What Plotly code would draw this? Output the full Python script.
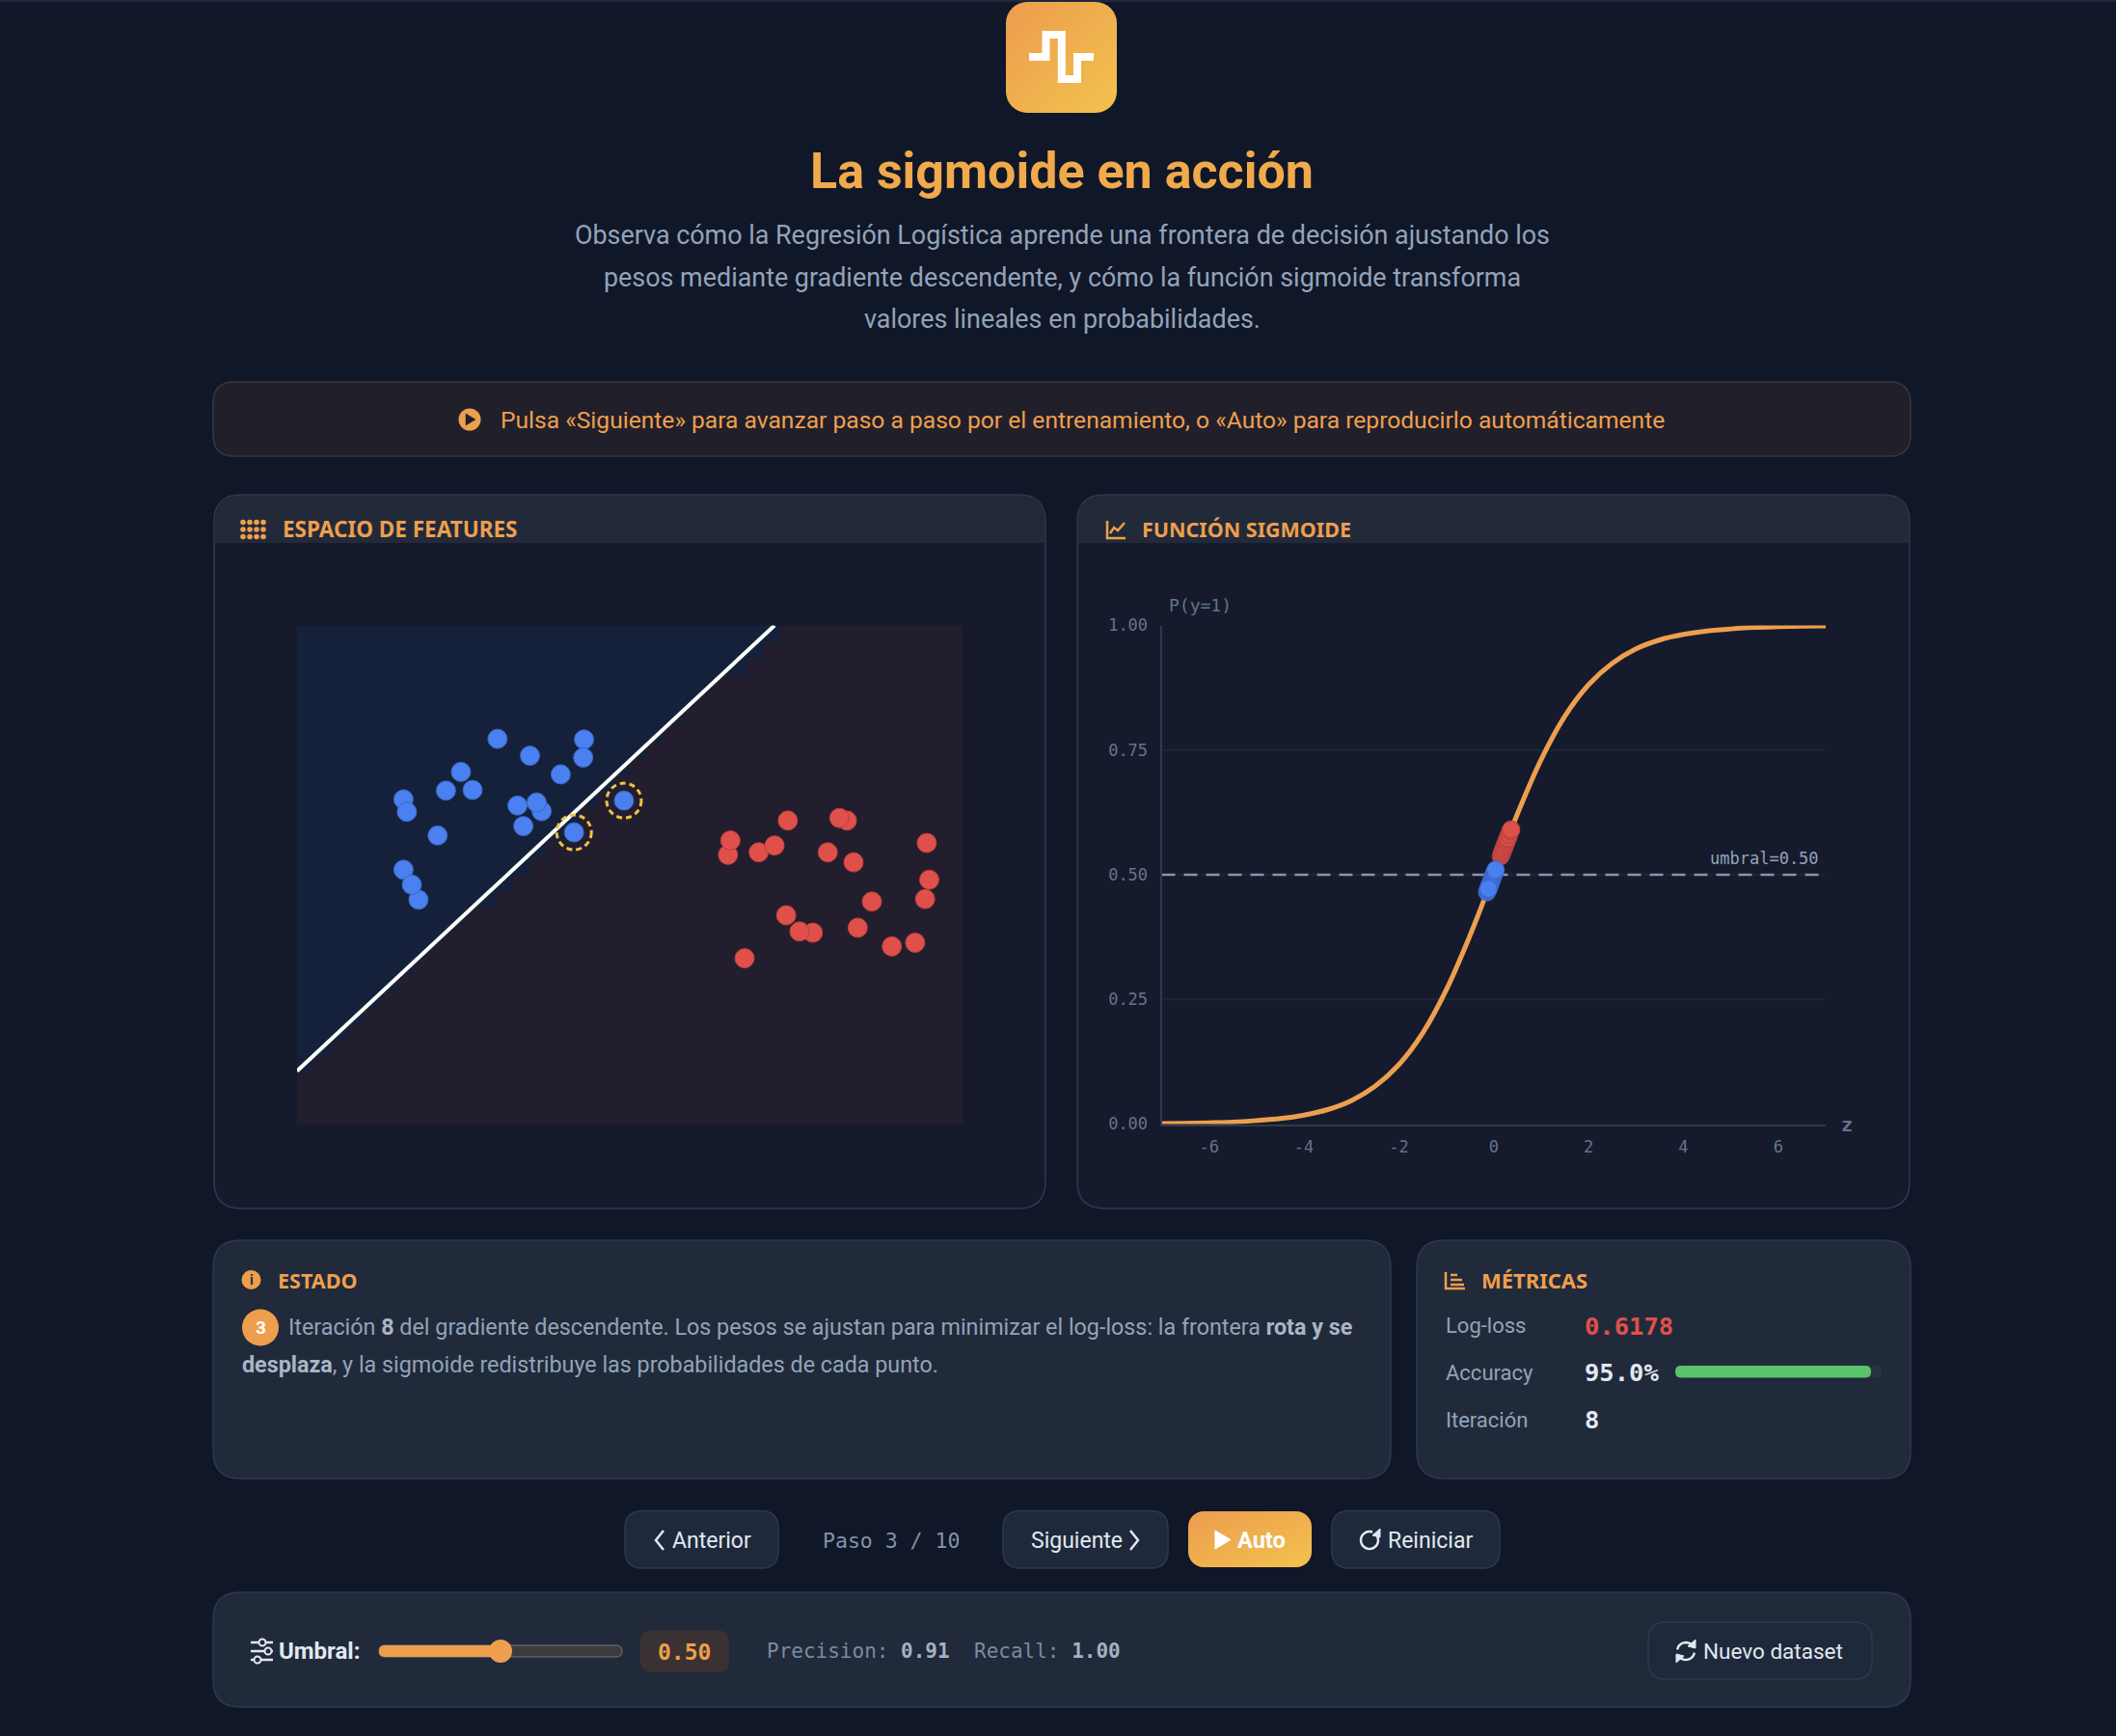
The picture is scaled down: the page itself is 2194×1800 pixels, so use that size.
import base64
import math
import plotly.graph_objects as go

W, H = 2194, 1800
SANS = "Roboto"
HEAD_FONT = "Noto Sans"
MONO = "DejaVu Sans Mono"

# feature space
blue_x = [-1.59, -1.20, -0.55, -0.56, -0.83, -2.03, -2.21, -1.89, -2.72, -2.68,
          -2.31, -1.06, -1.35, -1.12, -1.28, -2.72, -2.54, -2.62, -0.67, -0.07]
blue_y = [2.18, 1.91, 2.17, 1.88, 1.61, 1.65, 1.35, 1.36, 1.21, 1.01,
          0.63, 1.02, 1.11, 1.16, 0.78, 0.08, -0.40, -0.16, 0.68, 1.19]
red_x = [1.90, 2.61, 2.52, 1.18, 1.21, 1.55, 1.74, 2.38, 2.69, 3.57,
         3.60, 3.55, 2.91, 1.88, 2.20, 2.04, 2.74, 3.15, 3.43, 1.38]
red_y = [0.87, 0.87, 0.91, 0.32, 0.55, 0.36, 0.47, 0.36, 0.20, 0.51,
         -0.08, -0.39, -0.43, -0.65, -0.93, -0.91, -0.85, -1.15, -1.09, -1.34]
ring_x = [-0.67, -0.07]
ring_y = [0.68, 1.19]
boundary_x = [-4.0, 1.74]
boundary_y = [-3.15, 4.0]
# blue cells counted from the top, one per column of the decision surface
blue_rows = [27, 26, 25, 24, 23, 22, 21, 20, 19, 18, 17, 17, 16, 15, 14, 13, 12, 11, 10, 9,
             8, 7, 6, 5, 4, 3, 3, 2, 1, 0, 0, 0, 0, 0, 0, 0, 0, 0, 0, 0]
n_rows = 30

# sigmoid panel
curve_z = [-7, -6.5, -6, -5.5, -5, -4.5, -4, -3.5, -3, -2.5, -2, -1.5, -1, -0.5, 0,
           0.5, 1, 1.5, 2, 2.5, 3, 3.5, 4, 4.5, 5, 5.5, 6, 6.5, 7]
curve_p = [0.001, 0.0015, 0.0025, 0.004, 0.007, 0.011, 0.018, 0.029, 0.047, 0.076, 0.119, 0.182, 0.269, 0.378, 0.5,
           0.622, 0.731, 0.818, 0.881, 0.924, 0.953, 0.971, 0.982, 0.989, 0.993, 0.996, 0.9975, 0.9985, 0.999]
sig_red_z = [0.15, 0.17, 0.18, 0.19, 0.20, 0.21, 0.22, 0.23, 0.24, 0.25,
             0.26, 0.27, 0.28, 0.29, 0.30, 0.32, 0.33, 0.35, 0.36, 0.37]
sig_red_p = [0.537, 0.542, 0.545, 0.547, 0.550, 0.552, 0.555, 0.557, 0.560, 0.562,
             0.565, 0.567, 0.570, 0.572, 0.574, 0.579, 0.582, 0.587, 0.589, 0.591]
sig_blue_z = [-0.14, -0.13, -0.12, -0.12, -0.10, -0.09, -0.08, -0.07, -0.06, -0.05,
              -0.04, -0.03, -0.02, -0.01, 0.0, 0.01, 0.02, 0.03, -0.11, 0.04]
sig_blue_p = [0.465, 0.468, 0.470, 0.470, 0.475, 0.478, 0.480, 0.483, 0.485, 0.488,
              0.490, 0.493, 0.495, 0.498, 0.500, 0.503, 0.505, 0.508, 0.472, 0.510]
threshold_z = [-7, 7]
threshold_p = [0.5, 0.5]
x_ticks = [-6, -4, -2, 0, 2, 4, 6]
x_labels = ["-6", "-4", "-2", "0", "2", "4", "6"]
y_ticks = [0, 0.25, 0.5, 0.75, 1]
y_labels = ["0.00", "0.25", "0.50", "0.75", "1.00"]

ORANGE = "#ee9f4e"
TEXT = "#94a3b8"
LIGHT = "#e2e8f0"
BLUE = "#4a80f0"
RED = "#e0504a"
CARD = "#202a3b"
EDGE = "#2e3a4c"
PANEL = "#151b2d"
HEAD = "#222a3a"

shapes = []
annotations = []


def pt(x, y):
    return f"{x / W:.5f},{1 - y / H:.5f}"


def rrect(x0, y0, x1, y1, r, bottom=True):
    p = f"M{pt(x0 + r, y0)} L{pt(x1 - r, y0)} Q{pt(x1, y0)} {pt(x1, y0 + r)} "
    if bottom:
        p += f"L{pt(x1, y1 - r)} Q{pt(x1, y1)} {pt(x1 - r, y1)} L{pt(x0 + r, y1)} Q{pt(x0, y1)} {pt(x0, y1 - r)} "
    else:
        p += f"L{pt(x1, y1)} L{pt(x0, y1)} "
    return p + f"L{pt(x0, y0 + r)} Q{pt(x0, y0)} {pt(x0 + r, y0)} Z"


def box(x0, y0, x1, y1, r, fill, edge=None, bottom=True, width=1.5):
    shapes.append(dict(type="path", path=rrect(x0, y0, x1, y1, r, bottom), xref="paper", yref="paper",
                       fillcolor=fill, line=dict(color=edge or fill, width=width if edge else 0), layer="below"))


def stroke(points, color, width=2.5, fill=None):
    path = "M" + " L".join(pt(x, y) for x, y in points)
    shapes.append(dict(type="path", path=path + (" Z" if fill else ""), xref="paper", yref="paper",
                       fillcolor=fill, line=dict(color=color, width=width), layer="below"))


def disc(cx, cy, r, fill, edge=None, width=0):
    shapes.append(dict(type="circle", xref="paper", yref="paper", x0=(cx - r) / W, x1=(cx + r) / W,
                       y0=1 - (cy + r) / H, y1=1 - (cy - r) / H, fillcolor=fill, layer="below",
                       line=dict(color=edge or fill, width=width)))


def arc(cx, cy, r, a0, a1, n=24):
    return [(cx + r * math.cos(math.radians(a0 + (a1 - a0) * i / n)),
             cy + r * math.sin(math.radians(a0 + (a1 - a0) * i / n))) for i in range(n + 1)]


def label(x, y, text, size, color, anchor="left", family=SANS):
    annotations.append(dict(x=x / W, y=1 - y / H, xref="paper", yref="paper", text=text, showarrow=False,
                            xanchor=anchor, yanchor="middle", borderpad=0, align=anchor,
                            font=dict(family=family, size=size, color=color)))


def gradient_image(x0, y0, x1, y1, r):
    w, h = x1 - x0, y1 - y0
    svg = (f'<svg xmlns="http://www.w3.org/2000/svg" width="{w}" height="{h}"><defs>'
           '<linearGradient id="g" x1="0" y1="0" x2="1" y2="1"><stop offset="0" stop-color="#ed9c4e"/>'
           '<stop offset="1" stop-color="#f2c24e"/></linearGradient></defs>'
           f'<rect width="{w}" height="{h}" rx="{r}" fill="url(#g)"/></svg>')
    src = "data:image/svg+xml;base64," + base64.b64encode(svg.encode()).decode()
    return dict(source=src, xref="paper", yref="paper", x=x0 / W, y=1 - y0 / H, sizex=w / W, sizey=h / H,
                sizing="stretch", xanchor="left", yanchor="top", layer="below")


images = [gradient_image(1043, 2, 1158, 117, 22), gradient_image(1232, 1567, 1360, 1625, 16)]

# header
stroke([(0, 1), (W, 1)], "#1e293b", 2)
stroke([(1067, 59), (1084.5, 59), (1084.5, 36), (1100.8, 36), (1100.8, 82), (1117, 82), (1117, 59), (1134, 59)], "#ffffff", 8)
label(1101, 177, "<b>La sigmoide en acción</b>", 52, "#f0a94b", "center")
label(1101, 244, "Observa cómo la Regresión Logística aprende una frontera de decisión ajustando los", 26.9, TEXT, "center")
label(1101, 287.5, "pesos mediante gradiente descendente, y cómo la función sigmoide transforma", 26.9, TEXT, "center")
label(1101, 330.5, "valores lineales en probabilidades.", 26.9, TEXT, "center")

# hint bar
box(221, 396, 1981, 473, 22, "#211f2a", "#3a3638")
disc(487, 435, 11.5, ORANGE)
stroke([(483, 429), (483, 441), (493, 435)], "#211f2a", 0.5, "#211f2a")
label(518, 435, "Pulsa «Siguiente» para avanzar paso a paso por el entrenamiento, o «Auto» para reproducirlo automáticamente", 24.6, ORANGE)

# chart cards
for x0, x1 in [(222, 1084), (1117, 1980)]:
    box(x0, 513, x1, 1253, 28, PANEL, EDGE)
    box(x0 + 1, 514, x1 - 1, 563, 27, HEAD, None, bottom=False)
for cy in [541.5, 549, 556.5]:
    for cx in [252, 259, 266, 273]:
        disc(cx, cy, 2.8, ORANGE)
label(292, 548.5, "<b>ESPACIO DE FEATURES</b>", 22.5, ORANGE, family=HEAD_FONT)
stroke([(1148, 540), (1148, 558), (1167, 558)], ORANGE, 2.5)
stroke([(1151, 553), (1155, 547), (1159, 550), (1166, 542)], ORANGE, 2.5)
label(1183, 548.5, "<b>FUNCIÓN SIGMOIDE</b>", 21.5, ORANGE, family=HEAD_FONT)

# estado card
box(221, 1286, 1442, 1533, 28, CARD, EDGE)
disc(260.5, 1327, 10, ORANGE)
label(260.5, 1327, "<b>i</b>", 14, CARD, "center")
label(287, 1327, "<b>ESTADO</b>", 21.5, ORANGE, family=HEAD_FONT)
disc(270, 1376.5, 19, ORANGE)
label(270, 1376.5, "<b>3</b>", 19, "#ffffff", "center")
label(298, 1375.5, 'Iteración <b><span style="color:#aab5c5">8</span></b> del gradiente descendente. Los pesos se ajustan '
      'para minimizar el log-loss: la frontera <b><span style="color:#aab5c5">rota y se</span></b>', 23.3, TEXT)
label(250, 1414.5, '<b><span style="color:#aab5c5">desplaza</span></b>, y la sigmoide redistribuye las probabilidades de cada punto.', 23.3, TEXT)

# metricas card
box(1469, 1286, 1981, 1533, 28, CARD, EDGE)
stroke([(1499, 1319), (1499, 1336), (1519, 1336)], ORANGE, 2.5)
for y, x in [(1322, 1511), (1327, 1516), (1332, 1518)]:
    stroke([(1504, y), (x, y)], ORANGE, 2.5)
label(1535, 1327, "<b>MÉTRICAS</b>", 22, ORANGE, family=HEAD_FONT)
label(1498, 1374.5, "Log-loss", 22, TEXT)
label(1498, 1423, "Accuracy", 22, TEXT)
label(1498, 1472, "Iteración", 22, TEXT)
label(1642, 1374.5, "<b>0.6178</b>", 25.5, RED, family=MONO)
label(1642, 1423, "<b>95.0%</b>", 25.5, LIGHT, family=MONO)
label(1642, 1472, "<b>8</b>", 25.5, LIGHT, family=MONO)
box(1737, 1416, 1951, 1428.5, 6, "#2a3344")
box(1737, 1416, 1940, 1428.5, 6, "#5ac26a")

# step buttons
for x0, x1 in [(648, 807), (1040, 1211), (1381, 1555)]:
    box(x0, 1566.5, x1, 1626, 18, "#1e293b", EDGE)
stroke([(688, 1587), (680, 1597), (688, 1607)], LIGHT, 2.5)
label(696, 1597, "Anterior", 23, LIGHT)
label(852, 1597, "Paso 3 / 10", 21.5, "#8593a7", family=MONO)
label(1068, 1597, "Siguiente", 23, LIGHT)
stroke([(1172, 1587), (1180, 1597), (1172, 1607)], LIGHT, 2.5)
stroke([(1260, 1587), (1260, 1606), (1276, 1596.5)], "#ffffff", 1, "#ffffff")
label(1282, 1597, "<b>Auto</b>", 23.5, "#ffffff")
stroke(arc(1420, 1597, 9, -30, 290), LIGHT, 2.5)
stroke([(1431, 1585), (1431, 1594), (1423, 1592)], LIGHT, 1, LIGHT)
label(1438, 1597, "Reiniciar", 23, LIGHT)

# threshold bar
box(221, 1651, 1981, 1770, 28, CARD, EDGE)
for y, x in [(1703, 272), (1712, 278), (1721, 267)]:
    stroke([(260, y), (283, y)], LIGHT, 2.5)
    disc(x, y, 3.5, CARD, LIGHT, 2)
label(288, 1712, "<b>Umbral:</b>", 24, LIGHT)
box(393, 1706, 645, 1718, 6, "#3b3a3c", "#77777a", width=1)
box(393, 1706, 519, 1718, 6, ORANGE)
disc(519, 1712, 12, ORANGE)
box(664, 1690.5, 756, 1734, 12, "#3a3232")
label(709, 1712.5, "<b>0.50</b>", 23, ORANGE, "center", MONO)
label(794, 1712, 'Precision: <b><span style="color:#a5b0c0">0.91</span></b>', 21, "#7c8a9e", family=MONO)
label(1009, 1712, 'Recall: <b><span style="color:#a5b0c0">1.00</span></b>', 21, "#7c8a9e", family=MONO)
box(1709, 1682, 1941, 1741, 18, "#1e293b", EDGE)
stroke(arc(1748, 1712, 9, 190, 330, 12), LIGHT, 2.5)
stroke(arc(1748, 1712, 9, 10, 150, 12), LIGHT, 2.5)
stroke([(1758, 1700), (1758, 1709), (1750, 1707)], LIGHT, 1, LIGHT)
stroke([(1738, 1724), (1738, 1715), (1746, 1717)], LIGHT, 1, LIGHT)
label(1765, 1712, "Nuevo dataset", 22.5, LIGHT)

# decision surface built from the column counts
surface = [[0 if col_blue > row else 1 for col_blue in blue_rows] for row in range(n_rows)]

fig = go.Figure()
fig.add_trace(go.Heatmap(z=surface, x0=-3.9, dx=0.2, y0=3.8667, dy=-0.26667, showscale=False, hoverinfo="skip",
                         zmin=0, zmax=1, colorscale=[[0, "#15213a"], [1, "#231e2d"]], xaxis="x", yaxis="y"))
fig.add_trace(go.Scatter(x=boundary_x, y=boundary_y, mode="lines", line=dict(color="#ffffff", width=4),
                         xaxis="x", yaxis="y", cliponaxis=False))
fig.add_trace(go.Scatter(x=blue_x, y=blue_y, mode="markers", xaxis="x", yaxis="y", cliponaxis=False,
                         marker=dict(size=20, color=BLUE, line=dict(color="#3a66c4", width=1))))
fig.add_trace(go.Scatter(x=red_x, y=red_y, mode="markers", xaxis="x", yaxis="y", cliponaxis=False,
                         marker=dict(size=20, color=RED, line=dict(color="#b8423f", width=1))))

fig.add_trace(go.Scatter(x=threshold_z, y=threshold_p, mode="lines", xaxis="x2", yaxis="y2",
                         line=dict(color="#8a94a6", width=2.5, dash="14px,9px")))
fig.add_trace(go.Scatter(x=curve_z, y=curve_p, mode="lines", xaxis="x2", yaxis="y2", cliponaxis=False,
                         line=dict(color=ORANGE, width=5, shape="spline")))
fig.add_trace(go.Scatter(x=sig_red_z, y=sig_red_p, mode="markers", xaxis="x2", yaxis="y2",
                         marker=dict(size=18, color=RED, opacity=0.9, line=dict(color="#b8423f", width=1))))
fig.add_trace(go.Scatter(x=sig_blue_z, y=sig_blue_p, mode="markers", xaxis="x2", yaxis="y2",
                         marker=dict(size=18, color=BLUE, opacity=0.95, line=dict(color="#3a66c4", width=1))))

for x, y in zip(ring_x, ring_y):
    shapes.append(dict(type="circle", xref="x", yref="y", xsizemode="pixel", ysizemode="pixel",
                       xanchor=x, yanchor=y, x0=-18, x1=18, y0=-18, y1=18, layer="above",
                       line=dict(color="#f0c14b", width=3, dash="6px,4px")))

annotations.append(dict(x=-7, y=1, xref="x2", yref="y2", text="P(y=1)", showarrow=False, xanchor="left", yanchor="bottom",
                        xshift=5, yshift=8, font=dict(family=MONO, size=18, color="#64748b")))
annotations.append(dict(x=6.9, y=0.5, xref="x2", yref="y2", text="umbral=0.50", showarrow=False, xanchor="right",
                        yanchor="bottom", yshift=5, font=dict(family=MONO, size=17, color=TEXT)))
annotations.append(dict(x=7, y=0, xref="x2", yref="y2", text="<b>z</b>", showarrow=False, xanchor="left", yanchor="middle",
                        xshift=14, font=dict(family=MONO, size=20, color="#64748b")))

fig.update_layout(
    width=W, height=H, margin=dict(l=0, r=0, t=0, b=0), paper_bgcolor="#101729", plot_bgcolor="rgba(0,0,0,0)",
    showlegend=False, shapes=shapes, annotations=annotations, images=images,
    xaxis=dict(domain=[308 / W, 998 / W], range=[-4, 4], visible=False, fixedrange=True, automargin=False),
    yaxis=dict(domain=[1 - 1165.5 / H, 1 - 648.5 / H], range=[-4, 4], visible=False, fixedrange=True, automargin=False),
    xaxis2=dict(domain=[1204.5 / W, 1893 / W], range=[-7, 7], anchor="y2", tickvals=x_ticks, ticktext=x_labels,
                showgrid=False, zeroline=False, automargin=False,
                showline=True, linecolor="#2f3a4c", linewidth=2, ticks="", ticklabelstandoff=7,
                tickfont=dict(family=MONO, size=17, color="#64748b")),
    yaxis2=dict(domain=[1 - 1165.5 / H, 1 - 648.5 / H], range=[0, 1], anchor="x2", tickvals=y_ticks, ticktext=y_labels,
                gridcolor="#1c2435", gridwidth=1.5, zeroline=False, showline=True, linecolor="#2f3a4c", linewidth=2,
                automargin=False, ticks="", ticklabelstandoff=9, tickfont=dict(family=MONO, size=17, color="#64748b")),
)

fig.write_html("out.html", config={"displayModeBar": False}, post_script="document.body.style.margin='0';")
